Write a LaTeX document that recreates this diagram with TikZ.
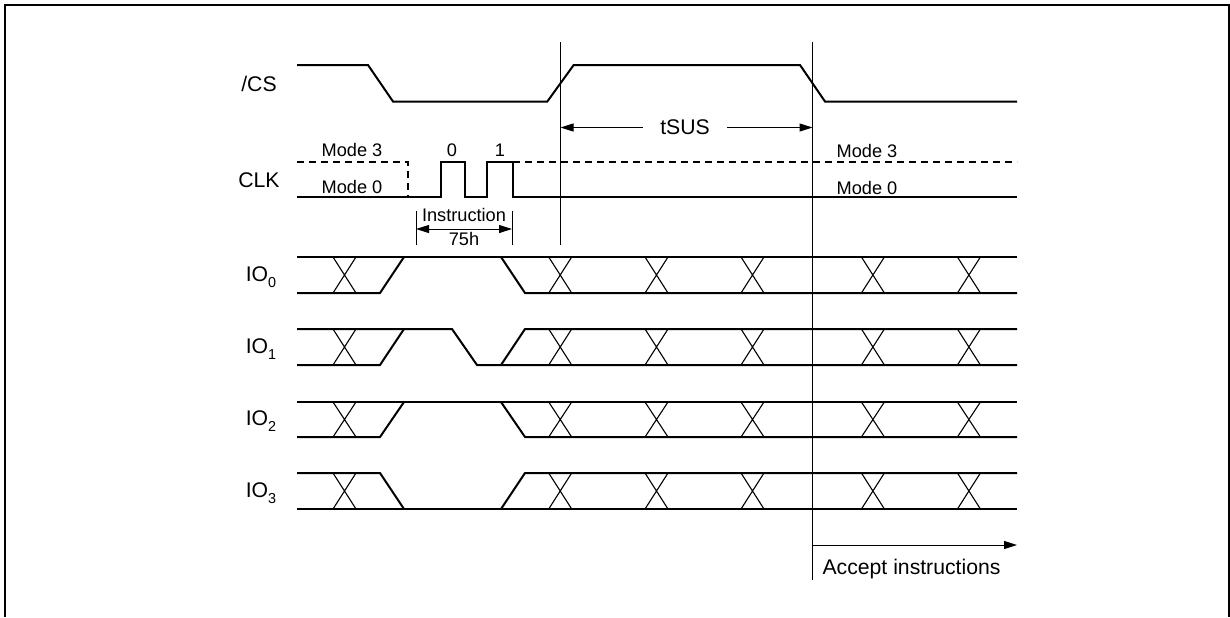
\documentclass[tikz,border=0pt]{standalone}
\usepackage{fontspec}
\setmainfont{Liberation Sans}
\usetikzlibrary{arrows.meta}

\newcommand{\iosub}[1]{\raisebox{-3.3pt}{\fontsize{7.2}{8}\selectfont #1}}

\begin{document}
\begin{tikzpicture}[
    x=0.5pt, y=-0.5pt,
    signame/.style={font=\fontsize{10.6}{12}\selectfont},
    small/.style={font=\fontsize{9.1}{11}\selectfont},
    sig/.style={line width=1pt},
    modeline/.style={line width=1pt, dash pattern=on 3.5pt off 2.5pt},
    xline/.style={line width=0.55pt},
    guide/.style={line width=0.5pt},
    arrow/.style={->, line width=0.5pt, >={Triangle[length=6.5pt,width=4pt]}}
]
    \useasboundingbox (0,0) rectangle (1230,617);
    \draw[line width=1pt] (4.5,617) -- (4.5,4.5) -- (1229,4.5) -- (1229,617);

    % signal names
    \node[signame] (cs) at (259,84) {/CS};
    \node[signame] (clk) at (259,180) {CLK};
    \node[signame] (io0) at (261,277) {IO\iosub{0}};
    \node[signame] (io1) at (261,349) {IO\iosub{1}};
    \node[signame] (io2) at (261,421) {IO\iosub{2}};
    \node[signame] (io3) at (261,493) {IO\iosub{3}};

    % /CS
    \draw[sig] (297,65) -- (368,65) -- (393,101.5) -- (547.3,101.5) -- (573.7,65) -- (800,65) -- (825,101.5) -- (1017,101.5);

    % CLK
    \draw[modeline] (297,162) -- (408,162) -- (408,197);
    \draw[sig] (297,197) -- (441,197) -- (441,162) -- (465,162) -- (465,197) -- (487,197) -- (487,162) -- (513,162) -- (513,197) -- (1017,197);
    \draw[modeline] (513,162) -- (1017,162);
    \node[small] (mode3l) at (352,150) {Mode 3};
    \node[small] (mode0l) at (352,187) {Mode 0};
    \node[small] (bit0) at (452,150) {0};
    \node[small] (bit1) at (500,150) {1};
    \node[small] (mode3r) at (867,151) {Mode 3};
    \node[small] (mode0r) at (867,188) {Mode 0};

    % instruction
    \coordinate (insL) at (416,229);
    \coordinate (insR) at (512,229);
    \draw[guide] (416,211) -- (416,245);
    \draw[guide] (512,211) -- (512,245);
    \draw[arrow, <->] (insL) -- (insR);
    \node[small] (ins) at (464,215) {Instruction};
    \node[small] (code) at (464,239) {75h};

    % tSUS
    \coordinate (susL) at (560.5,127.5);
    \coordinate (susR) at (812.5,127.5);
    \draw[guide] (560.5,42) -- (560.5,245);
    \draw[guide] (812.5,42) -- (812.5,580);
    \node[signame, inner xsep=8.5pt] (tsus) at (685,127.5) {tSUS};
    \draw[arrow] (tsus) -- (susL);
    \draw[arrow] (tsus) -- (susR);

    % IO lines
    \draw[sig] (297,257) -- (1017,257);
    \draw[sig] (297,293) -- (380,293) -- (404,257);
    \draw[sig] (501,257) -- (525,293) -- (1017,293);

    \draw[sig] (297,329) -- (452,329) -- (477,365) -- (1017,365);
    \draw[sig] (297,365) -- (380,365) -- (404,329);
    \draw[sig] (501,365) -- (525,329) -- (1017,329);

    \draw[sig] (297,402) -- (1017,402);
    \draw[sig] (297,437) -- (380,437) -- (404,402);
    \draw[sig] (501,402) -- (525,437) -- (1017,437);

    \draw[sig] (297,473) -- (380,473) -- (404,509);
    \draw[sig] (297,509) -- (1017,509);
    \draw[sig] (501,509) -- (525,473) -- (1017,473);

    \foreach \t/\b in {257/293, 329/365, 402/437, 473/509}
        \foreach \x in {344.5, 560.2, 656.5, 752.5, 872.9, 968.9}
            \draw[xline] (\x-11.5,\t) -- (\x+11.5,\b) (\x-11.5,\b) -- (\x+11.5,\t);

    % accept
    \coordinate (accL) at (812.5,545);
    \coordinate (accR) at (1017,545);
    \draw[arrow] (accL) -- (accR);
    \node[signame, anchor=west] (accept) at (815.5,569) {Accept instructions};
\end{tikzpicture}
\end{document}
